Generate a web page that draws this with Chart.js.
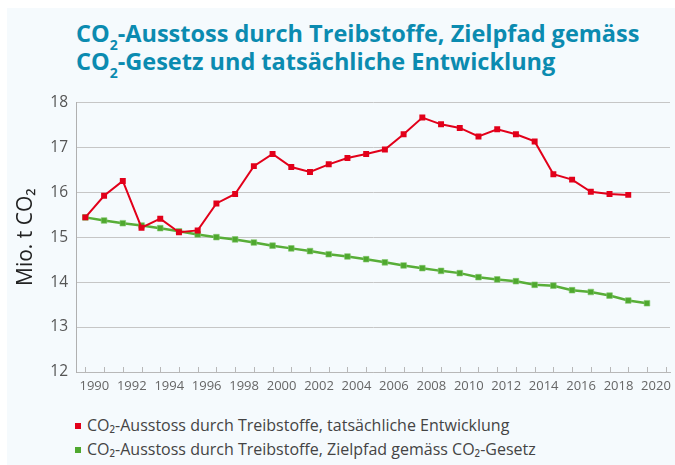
<!DOCTYPE html>
<html>
<head>
<meta charset="utf-8">
<script src="https://cdn.jsdelivr.net/npm/chart.js@4.4.1/dist/chart.umd.min.js"></script>
<style>
  html, body { margin: 0; padding: 0; background: #fff; }
  body { width: 675px; height: 465px; position: relative; overflow: hidden; font-family: 'Open Sans', sans-serif; }
  #panel { position: absolute; left: 7px; top: 8px; right: 0; bottom: 0; background: #f5fafd; }
  #title { position: absolute; left: 76px; top: 19px; color: #0b8bb0; font-size: 23.5px; font-weight: 700; line-height: 28px; white-space: nowrap; }
  #title sub { font-size: 14px; line-height: 0; vertical-align: -8px; }
  #wrap { position: absolute; left: 0; top: 85px; width: 675px; height: 315px; }
  #legend { position: absolute; left: 75px; top: 413px; font-size: 16px; color: #444; }
  #legend .row { height: 24px; line-height: 24px; white-space: nowrap; }
  #legend .box { display: inline-block; width: 6px; height: 6px; margin-right: 6px; vertical-align: 2px; }
</style>
</head>
<body>
<div id="panel"></div>
<div id="title">CO<sub>2</sub>-Ausstoss durch Treibstoffe, Zielpfad gemäss<br>CO<sub>2</sub>-Gesetz und tatsächliche Entwicklung</div>
<div id="wrap"><canvas id="chart"></canvas></div>
<div id="legend"></div>
<script>
// years on the x axis
const years = [1990, 1991, 1992, 1993, 1994, 1995, 1996, 1997, 1998, 1999,
  2000, 2001, 2002, 2003, 2004, 2005, 2006, 2007, 2008, 2009,
  2010, 2011, 2012, 2013, 2014, 2015, 2016, 2017, 2018, 2019, 2020];

// Mio. t CO2, actual development (1990-2019)
const actual = [15.44, 15.92, 16.25, 15.21, 15.41, 15.11, 15.15, 15.75, 15.96, 16.58,
  16.85, 16.56, 16.45, 16.62, 16.76, 16.85, 16.95, 17.29, 17.66, 17.51,
  17.43, 17.24, 17.40, 17.29, 17.13, 16.40, 16.28, 16.01, 15.96, 15.94];

// Mio. t CO2, target path per CO2 law (1990-2020)
const target = [15.44, 15.37, 15.31, 15.26, 15.20, 15.13, 15.06, 15.00, 14.95, 14.88,
  14.81, 14.75, 14.69, 14.62, 14.57, 14.51, 14.44, 14.37, 14.31, 14.25,
  14.20, 14.11, 14.06, 14.02, 13.94, 13.92, 13.82, 13.78, 13.70, 13.59, 13.53];

const seriesLabels = [
  'CO₂-Ausstoss durch Treibstoffe, tatsächliche Entwicklung',
  'CO₂-Ausstoss durch Treibstoffe, Zielpfad gemäss CO₂-Gesetz'
];

const toPoints = vals => vals.map((v, i) => ({ x: years[i], y: v }));

// small tick marks pointing up from the x axis
const innerTicks = {
  id: 'innerTicks',
  beforeDatasetsDraw(chart) {
    const sx = chart.scales.x;
    const ctx = chart.ctx;
    ctx.save();
    ctx.strokeStyle = '#b8b8b8';
    ctx.lineWidth = 1;
    sx.ticks.forEach(t => {
      const px = Math.round(sx.getPixelForValue(t.value)) + 0.5;
      ctx.beginPath();
      ctx.moveTo(px, sx.top);
      ctx.lineTo(px, sx.top - 5);
      ctx.stroke();
    });
    ctx.restore();
  }
};

const chart = new Chart(document.getElementById('chart'), {
  type: 'line',
  data: {
    datasets: [
      {
        label: seriesLabels[0],
        data: toPoints(actual),
        borderColor: '#e2001a',
        backgroundColor: '#e2001a',
        borderWidth: 2,
        pointStyle: 'rect',
        pointRadius: 4.2,
        pointBorderWidth: 0,
        tension: 0
      },
      {
        label: seriesLabels[1],
        data: toPoints(target),
        borderColor: '#58ae38',
        backgroundColor: '#4fa82f',
        borderWidth: 2.5,
        pointStyle: 'rect',
        pointRadius: 4,
        pointBorderWidth: 1,
        pointBorderColor: 'rgba(130, 200, 110, 0.6)',
        tension: 0
      }
    ]
  },
  options: {
    responsive: true,
    maintainAspectRatio: false,
    animation: false,
    layout: { padding: { top: 15, right: 4, left: 0, bottom: 0 } },
    plugins: {
      legend: { display: false },
      tooltip: { enabled: false }
    },
    scales: {
      x: {
        type: 'linear',
        min: 1989.5,
        max: 2021.23,
        afterFit: s => { s.height = 28; },
        grid: { drawOnChartArea: false, drawTicks: false },
        border: { display: true, color: '#b8b8b8', width: 1 },
        ticks: {
          stepSize: 1,
          autoSkip: false,
          includeBounds: false,
          maxRotation: 0,
          labelOffset: 9,
          padding: 6,
          color: '#666',
          font: { family: 'Open Sans', size: 13 },
          callback: v => (v % 2 === 0 && v <= 2020 ? String(v) : '')
        }
      },
      y: {
        min: 12,
        max: 18,
        afterFit: s => { s.width = 76; },
        grid: { color: '#c6c6c6', drawTicks: false },
        border: { display: true, color: '#b0b0b0', width: 1 },
        ticks: {
          stepSize: 1,
          padding: 8,
          color: '#555',
          font: { family: 'Open Sans', size: 15.5 }
        },
        title: {
          display: true,
          text: 'Mio. t CO₂',
          color: '#222',
          font: { family: 'Open Sans', size: 21 },
          padding: { top: 13.5, bottom: 0 }
        }
      }
    }
  },
  plugins: [innerTicks]
});

// HTML legend built from the datasets
const legend = document.getElementById('legend');
chart.data.datasets.forEach(ds => {
  const row = document.createElement('div');
  row.className = 'row';
  const box = document.createElement('span');
  box.className = 'box';
  box.style.background = ds.backgroundColor;
  row.appendChild(box);
  row.appendChild(document.createTextNode(ds.label));
  legend.appendChild(row);
});
</script>
</body>
</html>
